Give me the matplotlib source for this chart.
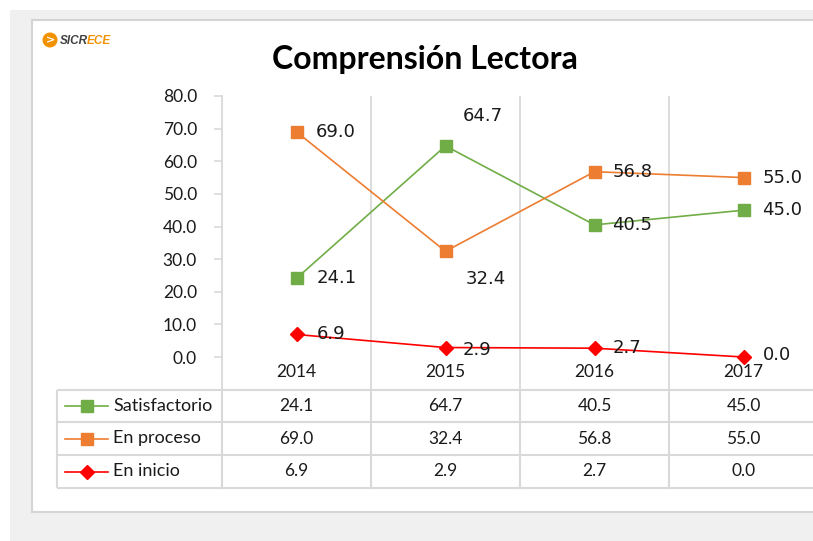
import numpy as np
import matplotlib
matplotlib.use('Agg')
import matplotlib.pyplot as plt
from matplotlib.transforms import blended_transform_factory
from matplotlib.patches import Rectangle, Circle

# data
years = ['2014', '2015', '2016', '2017']
series_names = ['Satisfactorio', 'En proceso', 'En inicio']
satisfactorio = [24.1, 64.7, 40.5, 45.0]
en_proceso = [69.0, 32.4, 56.8, 55.0]
en_inicio = [6.9, 2.9, 2.7, 0.0]
yticks = [0, 10, 20, 30, 40, 50, 60, 70, 80]
title = 'Comprensión Lectora'

series = [satisfactorio, en_proceso, en_inicio]
colors = ['#70AD47', '#ED7D31', '#FF0000']
markers = ['s', 's', 'D']
msizes = [8.5, 8.5, 7.5]
# label offsets in pixels from marker (style only)
label_offsets = [
	[(20, 0), (17, 30), (18, 0), (19, 0)],
	[(19, 0), (20, -28), (18, 0), (19, 0)],
	[(20, 0), (17, -2), (18, 0), (19, 2)],
]
grid_c = '#D9D9D9'
txt_c = '#1a1a1a'
W, H = 813, 541

fig = plt.figure(figsize=(W / 100, H / 100), dpi=100)
fig.patch.set_facecolor('white')

# background canvas in pixel coordinates
bg = fig.add_axes([0, 0, 1, 1], zorder=0)
bg.set_xlim(0, W)
bg.set_ylim(H, 0)
bg.axis('off')
bg.add_patch(Rectangle((10, 10), W, H, facecolor='#F0F0F0', edgecolor='none'))
bg.add_patch(Rectangle((32, 20), W, 492, facecolor='white', edgecolor='#D4D4D4', lw=1.5))

# logo
bg.add_patch(Circle((50, 40), 7.5, facecolor='#F39200', edgecolor='none'))
bg.text(50, 40.5, '>', color='white', fontsize=8, fontweight='bold', ha='center', va='center', family='DejaVu Sans')
bg.text(60, 41, 'SICR', color='#404040', fontsize=8.5, fontweight='bold', style='italic', va='center', family='Liberation Sans')
bg.text(87, 41, 'ECE', color='#F39200', fontsize=8.5, fontweight='bold', style='italic', va='center', family='Liberation Sans')

# title
bg.text(425, 60, title, fontsize=23, fontweight='bold', ha='center', va='center', family='Lato', color='black')

# main plot area: x from 222px to 818px, y from 96px to 390px
ax = fig.add_axes([222 / W, 1 - 390 / H, 596 / W, 294 / H], zorder=2)
ax.patch.set_alpha(0)
x = np.arange(len(years))
ax.set_xlim(-0.5, len(years) - 0.5)
ax.set_ylim(-(390 - 357) / ((357 - 96) / 80), 80)

for xb in np.arange(0.5, len(years), 1.0):
	ax.axvline(xb, color=grid_c, lw=1.3, zorder=1)

for vals, c, m, ms, offs in zip(series, colors, markers, msizes, label_offsets):
	ax.plot(x, vals, color=c, lw=1.2, marker=m, markersize=ms, zorder=3)
	for xi, v, off in zip(x, vals, offs):
		ax.annotate(f'{v:.1f}', (xi, v), xytext=off, textcoords='offset pixels',
			ha='left', va='center', fontsize=13, family='DejaVu Sans', color=txt_c, zorder=4)

for xi, yr in zip(x, years):
	ax.text(xi, -4.6, yr, ha='center', va='center', fontsize=12.5, family='Lato', color=txt_c)

ax.set_yticks(yticks)
ax.set_yticklabels([f'{t:.1f}' for t in yticks], fontsize=12.5, family='Lato', color=txt_c)
ax.set_xticks([])
ax.tick_params(axis='y', length=6, width=1.2, color=grid_c, pad=12)
for s in ['top', 'right', 'bottom']:
	ax.spines[s].set_visible(False)
ax.spines['left'].set_color(grid_c)
ax.spines['left'].set_linewidth(1.3)

# data table below the plot
tr = blended_transform_factory(ax.transData, bg.transData)
row_edges = [390, 422, 455, 488]
bg.hlines(row_edges, 57, W, color=grid_c, lw=1.5, zorder=1)
bg.vlines(57, 390, 488, color=grid_c, lw=1.5, zorder=1)
for xb in np.arange(-0.5, len(years), 1.0):
	bg.plot([xb, xb], [390, 488], color=grid_c, lw=1.5, transform=tr, zorder=1)

for r, (name, vals, c, m, ms) in enumerate(zip(series_names, series, colors, markers, msizes)):
	yc = (row_edges[r] + row_edges[r + 1]) / 2
	bg.plot([65, 108], [yc, yc], color=c, lw=1.2, zorder=3)
	bg.plot([86.5], [yc], color=c, marker=m, markersize=ms, zorder=3)
	bg.text(113, yc, name, ha='left', va='center', fontsize=13, family='Lato', color=txt_c)
	for xi, v in zip(x, vals):
		bg.text(xi, yc, f'{v:.1f}', ha='center', va='center', fontsize=12.5, family='Lato',
			color=txt_c, transform=tr)

fig.savefig('out.png', dpi=100)
